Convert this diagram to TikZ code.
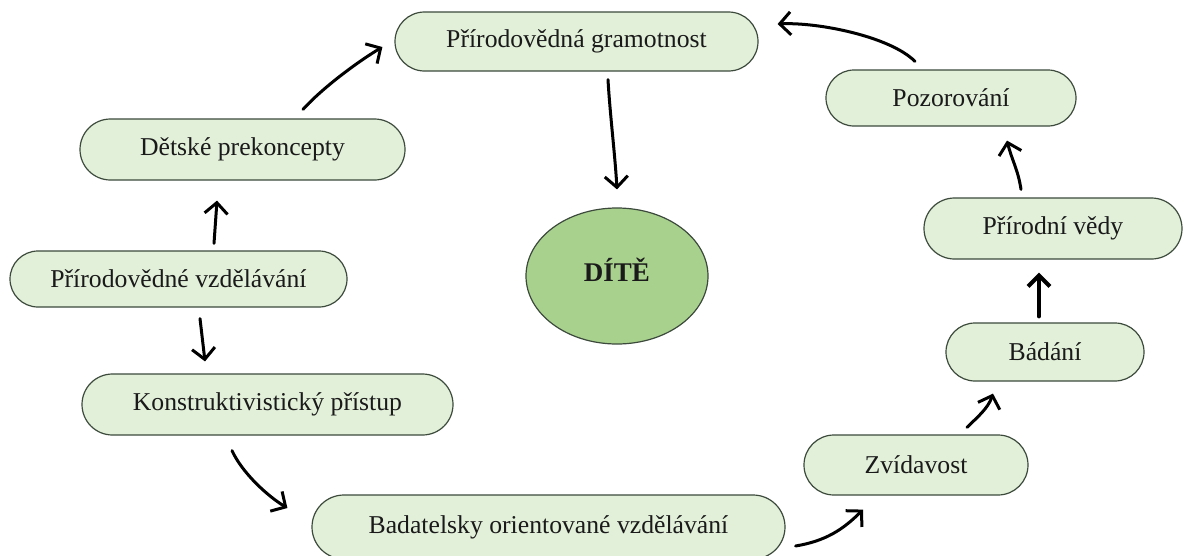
\documentclass[tikz,border=0pt]{standalone}
\usepackage{fontspec}
\setmainfont{Liberation Serif}
\usetikzlibrary{shapes.misc,shapes.geometric,arrows.meta}
\definecolor{boxfill}{HTML}{E2F0D9}
\definecolor{ellfill}{HTML}{A9D18E}
\definecolor{edge}{HTML}{3C4A3C}
\definecolor{txt}{HTML}{1A1A1A}
\tikzset{
  pill/.style={rounded rectangle, draw=edge, line width=1.2pt, fill=boxfill,
    inner sep=0pt, text=txt, font=\fontsize{25.7}{30}\selectfont},
  child/.style={ellipse, draw=edge, line width=1.2pt, fill=ellfill,
    inner sep=0pt, text=txt, font=\fontsize{27}{30}\selectfont\bfseries},
  hand/.style={draw=black, line width=3pt, line cap=round,
    -{Straight Barb[length=11pt,width=23pt,line width=3pt]}},
  handbold/.style={hand, line width=4pt,
    -{Straight Barb[length=11pt,width=22pt,line width=4pt]}}
}
\begin{document}
\begin{tikzpicture}[x=1pt,y=-1pt]
\useasboundingbox (0,0) rectangle (1184,555);
\node[pill, minimum width=363pt, minimum height=59pt] (G) at (576.5,41.5) {Přírodovědná gramotnost};
\node[pill, minimum width=250pt, minimum height=56pt] (P) at (951,98) {Pozorování};
\node[pill, minimum width=325pt, minimum height=61pt] (D) at (242.5,149.5) {Dětské prekoncepty};
\node[pill, minimum width=258pt, minimum height=61pt] (V) at (1053,228.5) {Přírodní vědy};
\node[pill, minimum width=337pt, minimum height=56pt] (Z) at (178.5,279) {Přírodovědné vzdělávání};
\node[child, minimum width=182pt, minimum height=136pt] (E) at (617,276) {\raisebox{6pt}[\height][\depth]{DÍTĚ}};
\node[pill, minimum width=198pt, minimum height=58pt] (B) at (1045,352) {Bádání};
\node[pill, minimum width=371pt, minimum height=61pt] (K) at (267.5,404.5) {Konstruktivistický přístup};
\node[pill, minimum width=224pt, minimum height=60pt] (Zv) at (916,465) {Zvídavost};
\node[pill, minimum width=473pt, minimum height=64pt] (BO) at (548.5,527) {Badatelsky orientované vzdělávání};

% D -> G
\draw[hand] ([xshift=60.5pt,yshift=9pt]D.north) .. controls +(20,-22) and +(-25,15) .. ([xshift=-12pt,yshift=-5.5pt]G.west);
% G -> E
\draw[hand] ([xshift=31.5pt,yshift=-8pt]G.south) .. controls +(2,35) and +(-2,-35) .. ([yshift=18pt]E.north);
% P -> G
\draw[hand] ([xshift=-36pt,yshift=8pt]P.north) .. controls +(-25,-25) and +(40,-2) .. ([xshift=19pt,yshift=17.5pt]G.east);
% V -> P
\draw[hand] ([xshift=-32pt,yshift=8pt]V.north) .. controls +(-3,-20) and +(5,20) .. ([xshift=56pt,yshift=-14pt]P.south);
% B -> V
\draw[handbold] ([xshift=-6pt,yshift=6pt]B.north) -- ([xshift=-14pt,yshift=-13pt]V.south);
% Zv -> B
\draw[hand] ([xshift=51pt,yshift=7pt]Zv.north) .. controls +(10,-10) and +(-5,15) .. ([xshift=-52pt,yshift=-12pt]B.south);
% BO -> Zv
\draw[hand] ([xshift=10pt,yshift=-19pt]BO.east) .. controls +(30,-5) and +(-20,20) .. ([xshift=-53pt,yshift=-14pt]Zv.south);
% K -> BO
\draw[hand] ([xshift=-35.5pt,yshift=-15pt]K.south) .. controls +(10,22) and +(-20,-12) .. ([xshift=-24pt,yshift=19pt]BO.west);
% Z -> D
\draw[hand] ([xshift=35.5pt,yshift=7pt]Z.north) -- ([xshift=-25.5pt,yshift=-20pt]D.south);
% Z -> K
\draw[hand] ([xshift=21.5pt,yshift=-11pt]Z.south) -- ([xshift=-62.5pt,yshift=12pt]K.north);
\end{tikzpicture}
\end{document}
